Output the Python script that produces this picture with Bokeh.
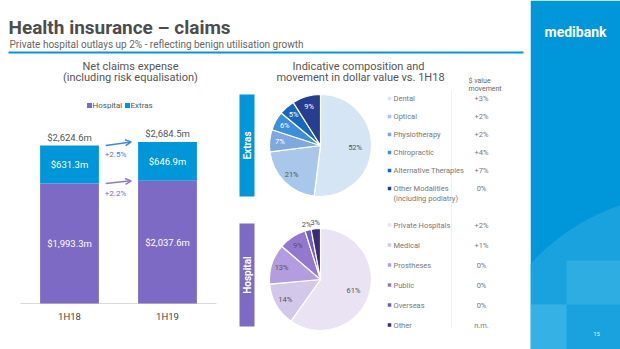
import math
from bokeh.plotting import figure
from bokeh.models import Range1d, Arrow, OpenHead
from bokeh.core.properties import value
from bokeh.embed import file_html
from bokeh.resources import INLINE

W, H = 620, 349
FONT = "Roboto"

# ---------------- data ----------------
periods = ["1H18", "1H19"]
series_names = ["Hospital", "Extras"]
hospital = [1993.3, 2037.6]
extras = [631.3, 646.9]
hospital_growth = "+2.2%"
extras_growth = "+2.5%"

extras_cats = ["Dental", "Optical", "Physiotherapy", "Chiropractic",
               "Alternative Therapies", "Other Modalities\n(including podiatry)"]
extras_share = [52, 21, 7, 6, 5, 9]
extras_move = ["+3%", "+2%", "+2%", "+4%", "+7%", "0%"]

hosp_cats = ["Private Hospitals", "Medical", "Prostheses", "Public", "Overseas", "Other"]
hosp_share = [61, 14, 13, 9, 2, 3]
hosp_move = ["+2%", "+1%", "0%", "0%", "0%", "n.m."]

# ---------------- styles ----------------
BLUE = "#0097DA"
PURPLE = "#7C6AC4"
extras_colors = ["#D5E5F4", "#A8C7EA", "#7EA8E2", "#3D8FDB", "#1767C2", "#243F8F"]
extras_lab_colors = ["#555555", "#555555", "white", "white", "white", "white"]
hosp_colors = ["#E9E3F4", "#D3C8EA", "#B39CE0", "#9478D0", "#6F5BC5", "#3A2A78"]
hosp_lab_colors = ["#555555"] * 6


def Y(py):
    return H - py


p = figure(width=W, height=H, x_range=Range1d(0, W), y_range=Range1d(0, H),
           x_axis_type=None, y_axis_type=None, toolbar_location=None,
           output_backend="svg", min_border=0, outline_line_color=None,
           background_fill_color="white", border_fill_color="white")
p.grid.visible = False


def txt(x, y, s, size, color, align="left", baseline="middle", bold=False,
        angle=0.0, xr="default", yr="default"):
    p.text(x=[x], y=[y], text=[s], text_font=value(FONT),
           text_font_size=f"{size}px", text_color=color, text_align=align,
           text_baseline=baseline, text_font_style="bold" if bold else "normal",
           angle=angle, x_range_name=xr, y_range_name=yr)


# ---------------- right decorative panel ----------------
p.quad(left=[530], right=[W], bottom=[0], top=[H], fill_color=BLUE, line_color=None)
p.circle(x=[690], y=[Y(410)], radius=217, fill_color="#1AA2DF", line_color=None)
p.quad(left=[566], right=[W], top=[Y(260)], bottom=[Y(304)], fill_color="#2EADE3", line_color=None)
p.quad(left=[530], right=[566], top=[Y(304)], bottom=[0], fill_color="#36B1E5", line_color=None)
p.quad(left=[0], right=[530], bottom=[0], top=[H], fill_color="white", line_color=None)
txt(575, Y(31), "medibank", 14, "white", align="center", bold=True)
txt(596, Y(333), "15", 6, "#DDF1FB", align="center")

# ---------------- header ----------------
txt(8, Y(26.5), "Health insurance \u2013 claims", 19, "#4D4D4D", bold=True)
txt(9, Y(44), "Private hospital outlays up 2% - reflecting benign utilisation growth", 10, "#666666")
p.segment(x0=[8], y0=[Y(52)], x1=[523], y1=[Y(52)], line_color=BLUE, line_width=2)

# ---------------- left: stacked bars ----------------
txt(130, Y(66), "Net claims expense", 11, "#555555", align="center")
txt(130, Y(77), "(including risk equalisation)", 11, "#555555", align="center")

p.rect(x=[89, 127], y=[Y(105)] * 2, width=5, height=5, fill_color=[PURPLE, BLUE], line_color=None)
txt(92, Y(105), series_names[0], 8, "#555555")
txt(130, Y(105), series_names[1], 8, "#555555")

k = 158.0 / 2624.6          # pixels per $m
base = Y(303)               # pixel row of the zero line
step = 98.0                 # pixels between categories
x0 = 69.0                   # pixel column of first category
p.extra_y_ranges = {"bars": Range1d(start=-base / k, end=(H - base) / k)}
p.extra_x_ranges = {"cats": Range1d(start=-x0 / step, end=(W - x0) / step)}

idx = list(range(len(periods)))
totals = [h + e for h, e in zip(hospital, extras)]

p.segment(x0=[20], y0=[base], x1=[216], y1=[base], line_color="#D9D9D9", line_width=1)
p.vbar(x=idx, width=0.6, bottom=0, top=hospital, fill_color=PURPLE, line_color=None,
       x_range_name="cats", y_range_name="bars")
p.vbar(x=idx, width=0.6, bottom=hospital, top=totals, fill_color=BLUE, line_color=None,
       x_range_name="cats", y_range_name="bars")

for i in idx:
    txt(i, totals[i] + 8 / k, f"${totals[i]:,.1f}m", 9.5, "#555555", align="center",
        xr="cats", yr="bars")
    txt(i, hospital[i] + extras[i] / 2, f"${extras[i]:,.1f}m", 9.5, "white", align="center",
        xr="cats", yr="bars")
    txt(i, hospital[i] / 2, f"${hospital[i]:,.1f}m", 9.5, "white", align="center",
        xr="cats", yr="bars")
    txt(i, -13 / k, periods[i], 9.5, "#444444", align="center", xr="cats", yr="bars")

for y_s, y_e, col, lab, labcol in [
    (totals[0], totals[1], "#3F88DA", extras_growth, "#3F7FC6"),
    (hospital[0], hospital[1], "#8C7BD0", hospital_growth, "#7C6AC4"),
]:
    p.add_layout(Arrow(end=OpenHead(size=6, line_color=col, line_width=1.5),
                       x_start=0.37, y_start=y_s, x_end=0.63, y_end=y_e,
                       line_color=col, line_width=1.5,
                       x_range_name="cats", y_range_name="bars"))
    txt(0.47, (y_s + y_e) / 2 - 11 / k, lab, 8, labcol, align="center", xr="cats", yr="bars")

# ---------------- right: pies ----------------
txt(358, Y(66), "Indicative composition and", 11, "#555555", align="center")
txt(360, Y(77), "movement in dollar value vs. 1H18", 11, "#555555", align="center")
txt(468, Y(80), "$ value", 7, "#666666")
txt(468, Y(88), "movement", 7, "#666666")
p.segment(x0=[451], y0=[Y(90)], x1=[451], y1=[Y(328)], line_color="#F0F0F0", line_width=1)

R = 51


def pie(cx, cy_top, shares, colors, lab_colors, cats, moves, row0, row_step, tab_top, tab_bot,
        tab_color, tab_label):
    cy = Y(cy_top)
    T = float(sum(shares))
    cum = [0]
    for s in shares:
        cum.append(cum[-1] + s)
    starts = [math.pi / 2 - 2 * math.pi * cum[i + 1] / T for i in range(len(shares))]
    ends = [math.pi / 2 - 2 * math.pi * cum[i] / T for i in range(len(shares))]
    p.wedge(x=cx, y=cy, radius=R, start_angle=starts, end_angle=ends,
            fill_color=colors, line_color="white", line_width=1.2)
    for i, s in enumerate(shares):
        frac = s / T
        phi = math.pi / 2 - 2 * math.pi * (cum[i] + s / 2) / T
        rl = 1.12 if frac < 0.04 else (0.68 if frac > 0.4 else 0.8)
        txt(cx + rl * R * math.cos(phi), cy + rl * R * math.sin(phi), f"{s}%", 7.5,
            lab_colors[i] if frac >= 0.04 else "#555555", align="center")
    # legend
    for i, c in enumerate(cats):
        ry = row0 + row_step * i
        p.rect(x=[389], y=[Y(ry)], width=3.5, height=3.5, fill_color=colors[i], line_color=None)
        for j, line in enumerate(c.split("\n")):
            txt(393, Y(ry + 10 * j), line, 7.5, "#777777")
        txt(481, Y(ry), moves[i], 7.5, "#777777", align="center")
    # side tab
    p.quad(left=[239], right=[254], top=[Y(tab_top)], bottom=[Y(tab_bot)], fill_color=tab_color,
           line_color=None)
    txt(246.5, Y((tab_top + tab_bot) / 2), tab_label, 10, "white", align="center", bold=True,
        angle=math.pi / 2)


pie(320, 145, extras_share, extras_colors, extras_lab_colors, extras_cats, extras_move,
    98, 18, 94, 196, BLUE, "Extras")
pie(320, 279, hosp_share, hosp_colors, hosp_lab_colors, hosp_cats, hosp_move,
    224.5, 20, 223, 326, PURPLE, "Hospital")

open("out.html", "w").write(file_html(p, INLINE))
